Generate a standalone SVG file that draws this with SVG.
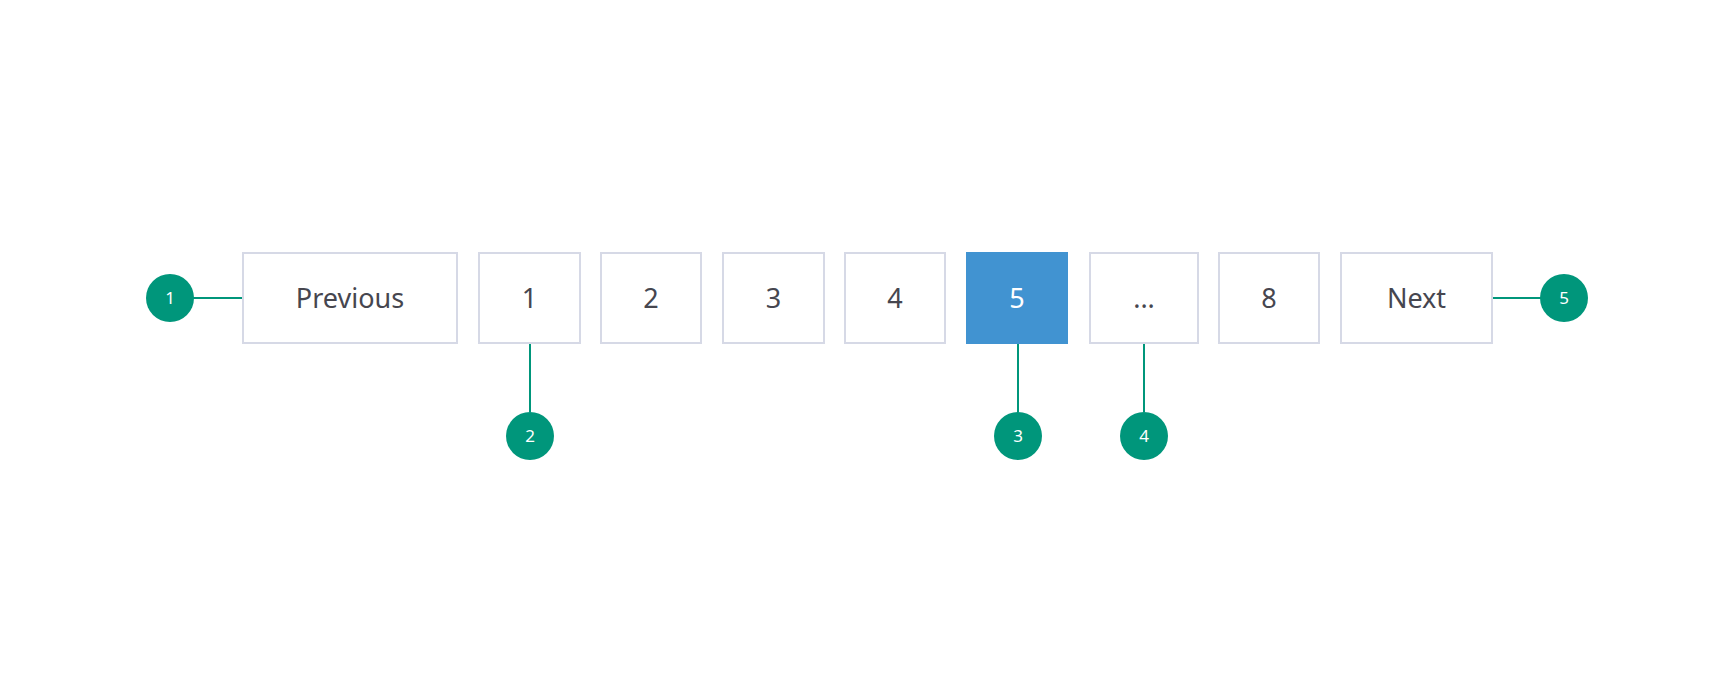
<svg xmlns="http://www.w3.org/2000/svg" width="1731" height="692" viewBox="0 0 1731 692">
<style>
.b{fill:#fff;stroke:#d6d9e6;stroke-width:2}
.t{font-family:"Noto Sans","Open Sans",sans-serif;font-size:27px;fill:#46464f;text-anchor:middle}
.c{fill:#00967b}
.ct{font-family:"Noto Sans","Open Sans",sans-serif;font-size:17px;fill:#fff;text-anchor:middle}
.l{stroke:#00967b;stroke-width:2;fill:none}
</style>
<rect width="1731" height="692" fill="#fff"/>
<g id="connectors">
<line class="l" x1="192" y1="298" x2="243" y2="298"/>
<line class="l" x1="1492" y1="298" x2="1542" y2="298"/>
<line class="l" x1="530" y1="343" x2="530" y2="412"/>
<line class="l" x1="1018" y1="343" x2="1018" y2="412"/>
<line class="l" x1="1144" y1="343" x2="1144" y2="412"/>
</g>
<g id="prev"><rect class="b" x="243" y="253" width="214" height="90"/><text class="t" x="350" y="308">Previous</text></g>
<g id="p1"><rect class="b" x="479" y="253" width="101" height="90"/><text class="t" x="529.5" y="308">1</text></g>
<g id="p2"><rect class="b" x="601" y="253" width="100" height="90"/><text class="t" x="651" y="308">2</text></g>
<g id="p3"><rect class="b" x="723" y="253" width="101" height="90"/><text class="t" x="773.5" y="308">3</text></g>
<g id="p4"><rect class="b" x="845" y="253" width="100" height="90"/><text class="t" x="895" y="308">4</text></g>
<g id="p5"><rect x="966" y="252" width="102" height="92" fill="#4193d1"/><text class="t" x="1017" y="308" style="fill:#fff">5</text></g>
<g id="ellipsis"><rect class="b" x="1090" y="253" width="108" height="90"/><text class="t" x="1144" y="308">...</text></g>
<g id="p8"><rect class="b" x="1219" y="253" width="100" height="90"/><text class="t" x="1269" y="308">8</text></g>
<g id="next"><rect class="b" x="1341" y="253" width="151" height="90"/><text class="t" x="1416.5" y="308">Next</text></g>
<g id="m1"><circle class="c" cx="170" cy="298" r="24"/><text class="ct" x="170" y="304">1</text></g>
<g id="m2"><circle class="c" cx="530" cy="436" r="24"/><text class="ct" x="530" y="442">2</text></g>
<g id="m3"><circle class="c" cx="1018" cy="436" r="24"/><text class="ct" x="1018" y="442">3</text></g>
<g id="m4"><circle class="c" cx="1144" cy="436" r="24"/><text class="ct" x="1144" y="442">4</text></g>
<g id="m5"><circle class="c" cx="1564" cy="298" r="24"/><text class="ct" x="1564" y="304">5</text></g>
</svg>
